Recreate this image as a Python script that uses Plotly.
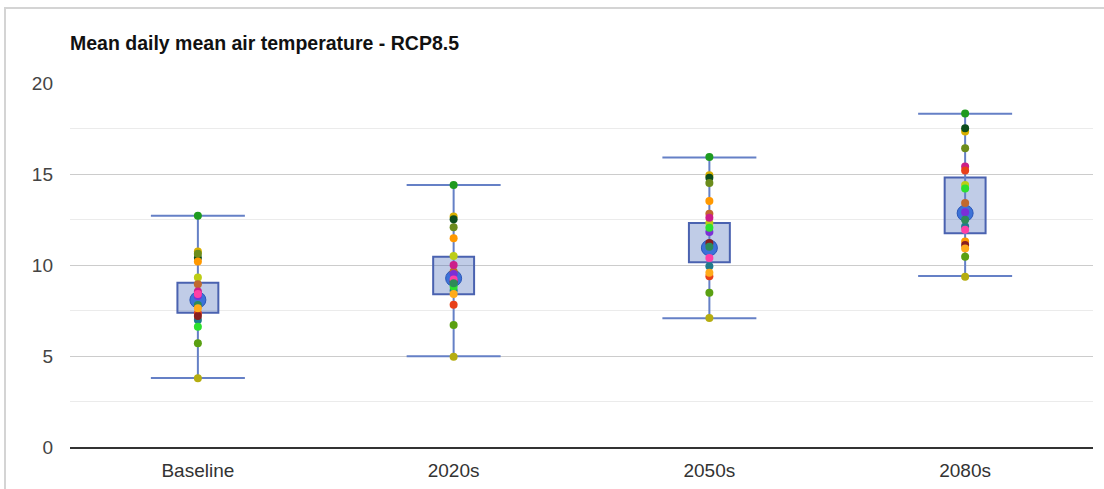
import plotly.graph_objects as go

periods = ["Baseline", "2020s", "2050s", "2080s"]

# Box (25th-75th percentile) and whisker (min-max) values
q_low = [7.38, 8.39, 10.15, 11.75]
q_high = [9.03, 10.46, 12.31, 14.81]
w_min = [3.79, 4.98, 7.08, 9.39]
w_max = [12.70, 14.40, 15.90, 18.31]
ens_mean = [8.08, 9.27, 10.94, 12.85]

# Individual model values per period
model_colors = [
    "#1f9b1f", "#d9b000", "#0c4d1c", "#6b8c1c", "#ff9800", "#bccd16",
    "#c0692e", "#cc1f8a", "#e8401a", "#7b2fd6", "#1f7a8c", "#2de02d",
    "#8a1f1f", "#ff3fa5", "#2e8b57", "#ffab1a", "#5aa012", "#b5ad10",
]
model_values = [
    [12.70, 14.40, 15.93, 18.32],
    [10.74, 12.66, 14.93, 17.34],
    [10.40, 12.52, 14.79, 17.52],
    [10.62, 12.08, 14.51, 16.42],
    [10.19, 11.47, 13.51, 11.29],
    [9.31, 10.50, 12.31, 14.40],
    [8.94, 9.64, 12.81, 13.40],
    [8.54, 10.00, 12.59, 15.41],
    [7.35, 7.81, 9.38, 15.19],
    [8.30, 9.50, 11.82, 12.90],
    [6.98, 8.60, 9.93, 12.11],
    [6.61, 8.81, 12.04, 14.20],
    [7.20, 9.10, 11.21, 11.10],
    [8.40, 9.20, 10.39, 11.93],
    [7.80, 9.00, 11.00, 12.48],
    [7.62, 8.41, 9.57, 10.90],
    [5.70, 6.71, 8.47, 10.46],
    [3.78, 4.96, 7.09, 9.36],
]

FONT = "Liberation Sans, Arial, sans-serif"

fig = go.Figure()

# Whiskers drawn as error bars around the min-max midpoint
mid = [(a + b) / 2 for a, b in zip(w_min, w_max)]
half = [(b - a) / 2 for a, b in zip(w_min, w_max)]
fig.add_trace(go.Scatter(
    x=periods, y=mid, mode="markers",
    marker=dict(size=1, opacity=0),
    error_y=dict(type="data", array=half, symmetric=True,
                 color="#6580c6", thickness=2, width=47),
    hoverinfo="skip",
))

# Boxes
fig.add_trace(go.Bar(
    x=periods, y=[h - l for l, h in zip(q_low, q_high)], base=q_low,
    width=0.16,
    marker=dict(color="rgba(60,95,180,0.32)",
                line=dict(color="#4a62b0", width=2)),
    hoverinfo="skip",
))

# Ensemble mean
fig.add_trace(go.Scatter(
    x=periods, y=ens_mean, mode="markers",
    marker=dict(size=16, color="#3c72d8", line=dict(color="#2a56b8", width=1)),
))

# Individual models
for col, vals in zip(model_colors, model_values):
    fig.add_trace(go.Scatter(
        x=periods, y=vals, mode="markers",
        marker=dict(size=8, color=col),
    ))

fig.update_layout(
    width=1104, height=489,
    margin=dict(l=70, r=11, t=83, b=42),
    paper_bgcolor="white", plot_bgcolor="white",
    showlegend=False,
    font=dict(family=FONT, size=18, color="#444"),
    title=dict(text="<b>Mean daily mean air temperature - RCP8.5</b>",
               x=70 / 1104, xref="container", xanchor="left",
               y=1 - 43 / 489, yref="container", yanchor="middle",
               font=dict(family=FONT, size=19.5, color="#111")),
    yaxis=dict(range=[0, 20], dtick=5, showgrid=True, gridcolor="#cccccc",
               gridwidth=1, zeroline=False, showline=False, automargin=False,
               ticklabelstandoff=16, tickfont=dict(size=19, color="#444"),
               minor=dict(dtick=2.5, showgrid=True, gridcolor="#ebebeb")),
    xaxis=dict(showgrid=False, showline=True, linecolor="#333", linewidth=2,
               ticks="", ticklabelstandoff=5, automargin=False,
               tickfont=dict(size=19, color="#333")),
    shapes=[dict(type="rect", xref="paper", yref="paper",
                 x0=(5 - 70) / 1023, x1=(1110 - 70) / 1023,
                 y0=(447 - 495) / 364, y1=(447 - 8) / 364,
                 line=dict(color="#d4d4d4", width=2), layer="below")],
)

fig.write_html("out.html", config={"displayModeBar": False},
               post_script="document.body.style.margin='0';document.body.style.overflow='hidden';")
